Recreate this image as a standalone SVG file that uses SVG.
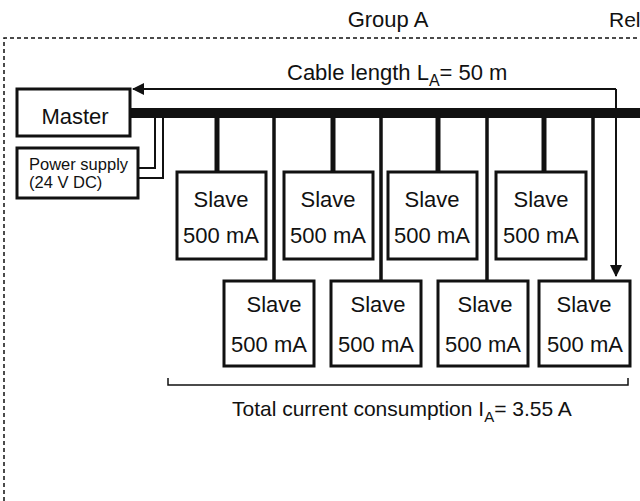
<svg xmlns="http://www.w3.org/2000/svg" width="640" height="501" viewBox="0 0 640 501">
<style>
text{font-family:"Liberation Sans",Arial,sans-serif;fill:#111}
.box{fill:#fff;stroke:#111;stroke-width:3}
.t{font-size:22px;text-anchor:middle}
</style>
<defs><marker id="ah" markerWidth="12" markerHeight="12" refX="11" refY="6" orient="auto" markerUnits="userSpaceOnUse"><path d="M0,0 L12,6 L0,12 z" fill="#111"/></marker></defs>
<rect width="640" height="501" fill="#fff"/>
<path d="M4,501 V38 H640" fill="none" stroke="#111" stroke-width="1.5" stroke-dasharray="4,3"/>
<text x="388" y="27" class="t" font-size="21">Group A</text>
<text x="609" y="27" font-size="21">Rel</text>
<text x="287" y="80" font-size="22">Cable length L<tspan font-size="16" dy="6">A</tspan><tspan dy="-6">= 50 m</tspan></text>
<g id="connectors" fill="none" stroke="#111">
<line x1="130" y1="113" x2="640" y2="113" stroke-width="10"/>
<polyline points="616,89 616,276" stroke-width="2" marker-end="url(#ah)"/>
<polyline points="616,89 133,89" stroke-width="2" marker-end="url(#ah)"/>
<polyline points="138,168 155,168 155,113" stroke-width="2"/>
<polyline points="138,178 163,178 163,113" stroke-width="2"/>
<g stroke-width="5"><line x1="217" y1="113" x2="217" y2="172"/><line x1="438" y1="113" x2="438" y2="172"/><line x1="333" y1="113" x2="333" y2="172"/><line x1="544" y1="113" x2="544" y2="172"/></g>
<g stroke-width="3.5"><line x1="274" y1="113" x2="274" y2="281"/><line x1="381" y1="113" x2="381" y2="281"/><line x1="487" y1="113" x2="487" y2="281"/><line x1="593" y1="113" x2="593" y2="281"/></g>
<polyline points="168,378 168,385 628,385 628,378" stroke-width="1.5"/>
</g>
<g id="master"><rect class="box" x="17" y="89" width="113" height="47"/><text x="75" y="124" class="t" font-size="24">Master</text></g>
<g id="power"><rect class="box" x="17" y="148" width="121" height="50"/><text x="29" y="170" font-size="16.5">Power supply</text><text x="29" y="188" font-size="16.5">(24 V DC)</text></g>
<g id="s1"><rect class="box" x="177" y="172" width="89" height="87"/><text x="221" y="207" class="t">Slave</text><text x="221" y="243" class="t">500 mA</text></g>
<g id="s2"><rect class="box" x="284" y="172" width="89" height="87"/><text x="328" y="207" class="t">Slave</text><text x="328" y="243" class="t">500 mA</text></g>
<g id="s3"><rect class="box" x="388" y="172" width="89" height="87"/><text x="432" y="207" class="t">Slave</text><text x="432" y="243" class="t">500 mA</text></g>
<g id="s4"><rect class="box" x="496" y="172" width="90" height="87"/><text x="541" y="207" class="t">Slave</text><text x="541" y="243" class="t">500 mA</text></g>
<g id="s5"><rect class="box" x="224" y="281" width="90" height="85"/><text x="274" y="312" class="t">Slave</text><text x="269" y="352" class="t">500 mA</text></g>
<g id="s6"><rect class="box" x="331" y="281" width="90" height="85"/><text x="378" y="312" class="t">Slave</text><text x="376" y="352" class="t">500 mA</text></g>
<g id="s7"><rect class="box" x="438" y="281" width="90" height="85"/><text x="485" y="312" class="t">Slave</text><text x="483" y="352" class="t">500 mA</text></g>
<g id="s8"><rect class="box" x="539" y="281" width="91" height="85"/><text x="584" y="312" class="t">Slave</text><text x="585" y="352" class="t">500 mA</text></g>
<text x="232" y="416" font-size="21">Total current consumption I<tspan font-size="15" dy="6">A</tspan><tspan dy="-6">= 3.55 A</tspan></text>
</svg>
